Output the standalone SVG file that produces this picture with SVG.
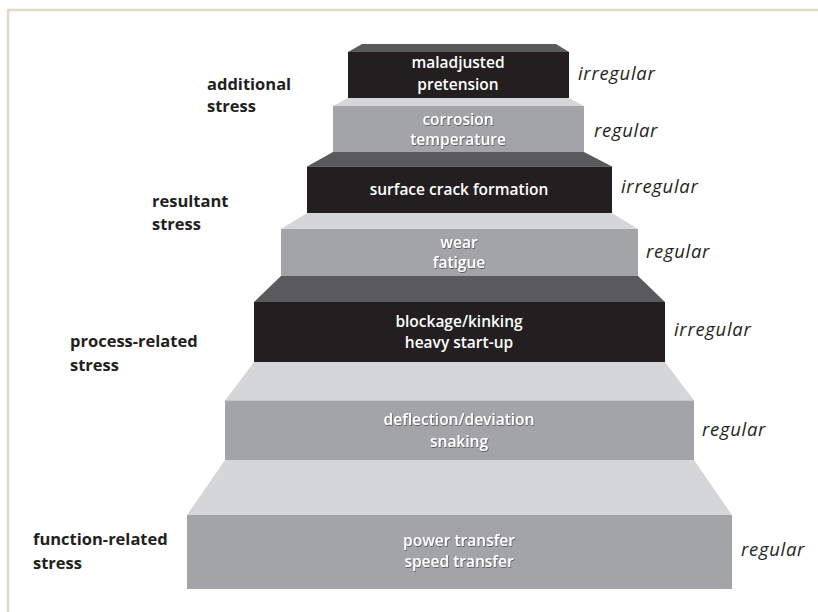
<svg xmlns="http://www.w3.org/2000/svg" width="818" height="612" viewBox="0 0 818 612">
  <defs>
    <filter id="soft" x="-10%" y="-30%" width="120%" height="160%">
      <feDropShadow dx="0.6" dy="0.8" stdDeviation="0.7" flood-color="#000" flood-opacity="0.55"/>
    </filter>
  </defs>
  <style>
    .frame { fill: none; stroke: #dedbc6; stroke-width: 2.5; }
    .front-dark { fill: #231f20; }
    .top-dark { fill: #5a5a5c; }
    .front-light { fill: #a3a4a7; }
    .top-light { fill: #d5d6d8; }
    .box { font-family: "Open Sans", "Liberation Sans", sans-serif; font-weight: 600; font-size: 15.5px; fill: #ffffff; text-anchor: middle; }
    .box-shadow { filter: url(#soft); }
    .cat { font-family: "Open Sans", "Liberation Sans", sans-serif; font-weight: 700; font-size: 16.5px; fill: #231f20; }
    .kind { font-family: "Open Sans", "Liberation Sans", sans-serif; font-style: italic; font-size: 18.5px; fill: #231f20; letter-spacing: 0.7px; }
  </style>

  <!-- frame -->
  <polyline class="frame" points="8,612 8,10 818,10"/>

  <!-- step 7 (bottom) -->
  <g id="step-power">
    <polygon class="top-light" points="225,460 694,460 732,515 187,515"/>
    <rect class="front-light" x="187" y="515" width="545" height="74"/>
    <text class="box box-shadow" x="459" y="546">power transfer</text>
    <text class="box box-shadow" x="459" y="567">speed transfer</text>
    <text class="kind" x="741" y="556">regular</text>
  </g>

  <!-- step 6 -->
  <g id="step-deflection">
    <polygon class="top-light" points="254,362 665,362 694,400.5 225,400.5"/>
    <rect class="front-light" x="225" y="400.5" width="469" height="59.5"/>
    <text class="box box-shadow" x="459" y="425">deflection/deviation</text>
    <text class="box box-shadow" x="459" y="447">snaking</text>
    <text class="kind" x="702" y="436">regular</text>
  </g>

  <!-- step 5 -->
  <g id="step-blockage">
    <polygon class="top-dark" points="281,276 638,276 665,302 254,302"/>
    <rect class="front-dark" x="254" y="302" width="411" height="60"/>
    <text class="box" x="459" y="327">blockage/kinking</text>
    <text class="box" x="459" y="348">heavy start-up</text>
    <text class="kind" x="674" y="336">irregular</text>
  </g>

  <!-- step 4 -->
  <g id="step-wear">
    <polygon class="top-light" points="307,213 612,213 638,229 281,229"/>
    <rect class="front-light" x="281" y="229" width="357" height="47"/>
    <text class="box box-shadow" x="459" y="248">wear</text>
    <text class="box box-shadow" x="459" y="268">fatigue</text>
    <text class="kind" x="646" y="258">regular</text>
  </g>

  <!-- step 3 -->
  <g id="step-crack">
    <polygon class="top-dark" points="333,152 584,152 612,166.5 307,166.5"/>
    <rect class="front-dark" x="307" y="166.5" width="305" height="46.5"/>
    <text class="box" x="459" y="195">surface crack formation</text>
    <text class="kind" x="621" y="193">irregular</text>
  </g>

  <!-- step 2 -->
  <g id="step-corrosion">
    <polygon class="top-light" points="348,98 569,98 584,106 333,106"/>
    <rect class="front-light" x="333" y="106" width="251" height="46"/>
    <text class="box box-shadow" x="458" y="125">corrosion</text>
    <text class="box box-shadow" x="458" y="145">temperature</text>
    <text class="kind" x="594" y="137">regular</text>
  </g>

  <!-- step 1 (top) -->
  <g id="step-pretension">
    <polygon class="top-dark" points="362,44 556,44 569,52 348,52"/>
    <rect class="front-dark" x="348" y="52" width="221" height="46"/>
    <text class="box" x="458" y="68">maladjusted</text>
    <text class="box" x="458" y="90">pretension</text>
    <text class="kind" x="578" y="80">irregular</text>
  </g>

  <!-- stress categories -->
  <g id="cat-additional">
    <text class="cat" x="207" y="90">additional</text>
    <text class="cat" x="207" y="112">stress</text>
  </g>
  <g id="cat-resultant">
    <text class="cat" x="152" y="207">resultant</text>
    <text class="cat" x="152" y="230">stress</text>
  </g>
  <g id="cat-process">
    <text class="cat" x="70" y="347">process-related</text>
    <text class="cat" x="70" y="371">stress</text>
  </g>
  <g id="cat-function">
    <text class="cat" x="33" y="545">function-related</text>
    <text class="cat" x="33" y="569">stress</text>
  </g>
</svg>
